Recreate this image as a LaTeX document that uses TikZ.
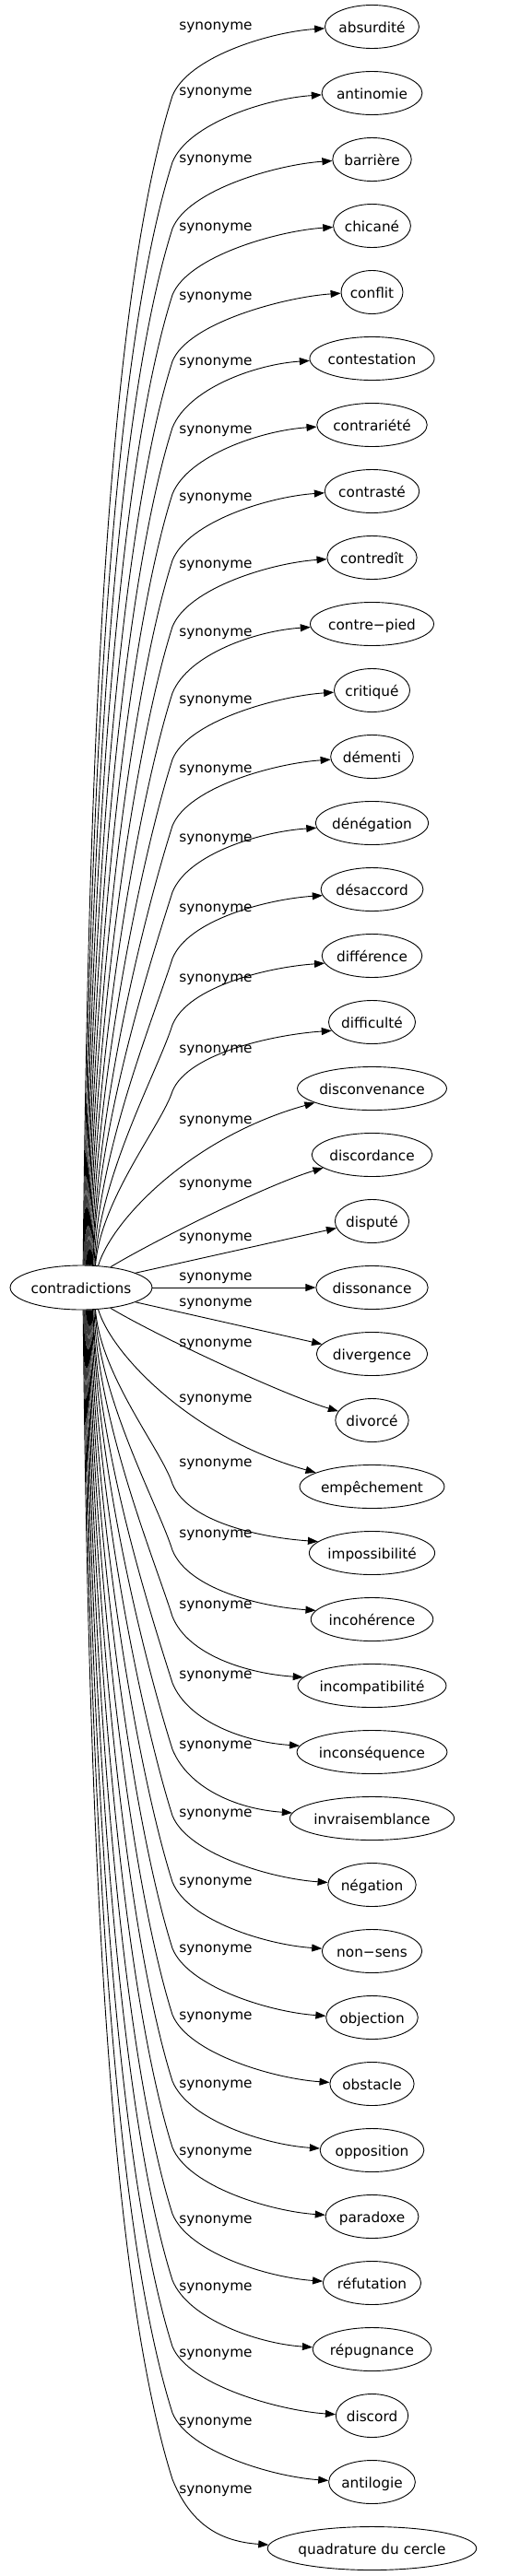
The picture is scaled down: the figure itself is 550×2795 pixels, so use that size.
\documentclass[tikz,border=0pt]{standalone}
\usepackage{fontspec}
\setmainfont{DejaVu Sans}
\usetikzlibrary{arrows.meta,shapes.geometric}
\newcommand{\gfont}{\fontsize{15.3pt}{18pt}\selectfont}
\begin{document}
\begin{tikzpicture}[x=1pt,y=-1pt,
  word/.style={ellipse,draw,line width=0.9pt,inner sep=0pt,font=\gfont,
    text height=13pt,text depth=1pt,minimum height=47pt},
  lab/.style={anchor=base,inner sep=0pt,font=\gfont},
  edge/.style={line width=0.9pt,-{Triangle[length=11pt,width=8pt]}}]
\gfont
\useasboundingbox (0,0) rectangle (550,2795);
\setbox0=\hbox{\gfont contradictions}
\pgfmathsetmacro\cw{1.2*\the\wd0+33.4}
\node[word,minimum width=\cw pt,minimum height=48pt] (c) at (88,1397) {contradictions};
\foreach \txt [count=\j from 0] in {absurdité,antinomie,barrière,chicané,conflit,contestation,contrariété,contrasté,contredît,contre−pied,critiqué,démenti,dénégation,désaccord,différence,difficulté,disconvenance,discordance,disputé,dissonance,divergence,divorcé,empêchement,impossibilité,incohérence,incompatibilité,inconséquence,invraisemblance,négation,non−sens,objection,obstacle,opposition,paradoxe,réfutation,répugnance,discord,antilogie,quadrature du cercle}{
  \setbox0=\hbox{\gfont \txt}
  \pgfmathsetmacro\nw{1.2*\the\wd0+33.4}
  \node[word,minimum width=\nw pt] (n\j) at (403.5,{29+72*\j}) {\txt};
}
\foreach \ly [count=\j from 0] in {29,100,173,247,322,393,467,540,613,687,760,835,910,986,1062,1139,1216,1285,1343,1386,1414,1458,1518,1588,1665,1742,1818,1894,1968,2042,2115,2188,2262,2335,2409,2482,2554,2628,2702}{
  \node[lab] (l\j) at (234,{\ly+3.7}) {synonyme};
}
\foreach \j in {0,...,38}{
  \pgfmathtruncatemacro\k{abs(\j-19)}
  \ifnum\j<19 \def\s{-1}\def\ns{1}\else\def\s{1}\def\ns{-1}\fi
  \ifnum\k=0
    \draw[edge] (c.east) -- (n\j.west);
  \else\ifnum\k=1
    \pgfmathtruncatemacro\as{mod(360-\s*15,360)}
    \pgfmathtruncatemacro\ae{180-\s*11}
    \draw[edge] (c.\as) -- (n\j.\ae);
  \else\ifnum\k=2
    \pgfmathtruncatemacro\as{mod(360-\s*35,360)}
    \pgfmathtruncatemacro\ae{180-\s*15}
    \pgfmathsetmacro\ca{\s*30}
    \pgfmathsetmacro\cb{\ns*18}
    \draw[edge] (c.\as) .. controls +(50,\ca) and +(-60,\cb) .. (n\j.\ae);
  \else\ifnum\k=3
    \pgfmathtruncatemacro\as{mod(360-\s*52,360)}
    \pgfmathtruncatemacro\ae{180-\s*14}
    \pgfmathsetmacro\ca{\s*50}
    \pgfmathsetmacro\cb{\ns*37}
    \draw[edge] (c.\as) .. controls +(15,\ca) and +(-133,\cb) .. (n\j.\ae);
  \else
    \pgfmathsetmacro\dx{2+(19-\k)*0.9}
    \pgfmathsetmacro\uu{24*sqrt(1-(\dx/84)^2)}
    \pgfmathtruncatemacro\as{mod(round(360-\s*atan(\uu/\dx)),360)}
    \pgfmathsetmacro\H{72*\k-99}
    \pgfmathsetmacro\ph{14*exp(-(\k-3)/3)+1.5}
    \pgfmathtruncatemacro\ae{round(180-\s*\ph)}
    \pgfmathsetmacro\ca{\s*0.375*\H}
    \pgfmathsetmacro\cbx{-0.06*\H}
    \pgfmathsetmacro\cby{\ns*0.19*\H}
    \pgfmathsetmacro\cc{\s*42}
    \pgfmathsetmacro\cd{\ns*4}
    \coordinate (k\j) at (187,{1397+\s*(72*\k-75)});
    \draw[edge] (c.\as) .. controls +(5,\ca) and +(\cbx,\cby) .. (k\j)
      .. controls +(17,\cc) and +(-60,\cd) .. (n\j.\ae);
  \fi\fi\fi\fi
}
\end{tikzpicture}
\end{document}
